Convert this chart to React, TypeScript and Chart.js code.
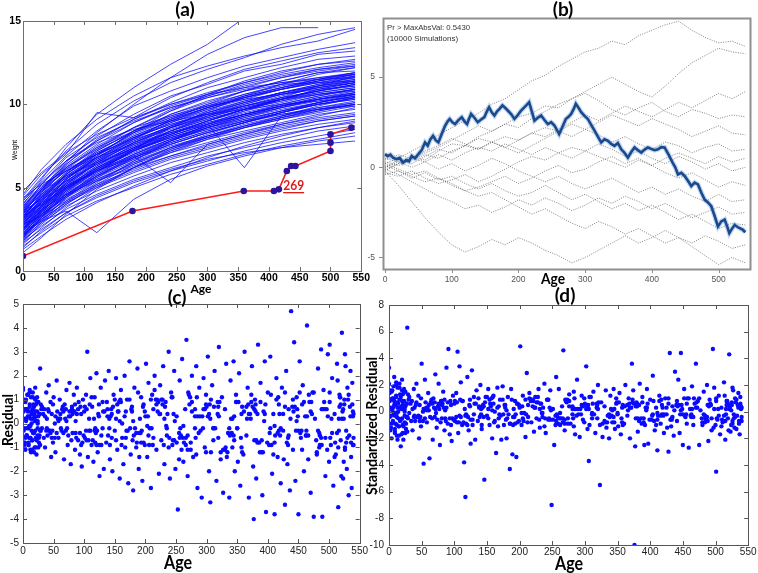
import React, { useEffect, useRef } from "react";
import { Chart, registerables } from "chart.js";
Chart.register(...registerables);

// ---------------- Panel (a): growth curves ----------------
const AGE_GRID = [0, 30, 70, 120, 180, 240, 300, 360, 420, 480, 540];
const growthCurves: number[][] = [
  [4.6, 6.1, 7.6, 9.1, 10.5, 11.6, 12.3, 12.9, 13.4, 13.8, 14.5],
  [4.3, 5.6, 7.2, 8.8, 10.2, 11.3, 12.1, 12.8, 13.6, 14.2, 14.6],
  [4.0, 5.4, 6.9, 8.4, 9.9, 10.8, 11.6, 12.3, 12.8, 13.3, 13.7],
  [3.8, 5.2, 6.6, 8.1, 9.4, 10.5, 11.2, 12.0, 12.4, 13.0, 13.2],
  [3.9, 5.0, 6.4, 7.8, 9.1, 10.1, 11.0, 11.6, 12.2, 12.7, 12.9],
  [3.6, 4.9, 6.3, 7.6, 8.9, 9.9, 10.6, 11.3, 11.9, 12.4, 12.6],
  [3.5, 4.7, 6.1, 7.4, 8.6, 9.6, 10.4, 11.0, 11.6, 12.1, 12.3],
  [3.7, 4.6, 5.9, 7.2, 8.4, 9.4, 10.1, 10.8, 11.4, 11.9, 12.0],
  [3.4, 4.5, 5.8, 7.0, 8.3, 9.2, 9.9, 10.6, 11.2, 11.6, 11.9],
  [3.3, 4.4, 5.7, 6.9, 8.1, 9.0, 9.8, 10.4, 10.9, 11.4, 11.7],
  [3.2, 4.3, 5.6, 6.8, 8.0, 8.9, 9.6, 10.2, 10.7, 11.2, 11.5],
  [3.1, 4.2, 5.5, 6.7, 7.8, 8.7, 9.4, 10.0, 10.6, 11.0, 11.3],
  [3.0, 4.1, 5.4, 6.6, 7.7, 8.6, 9.3, 9.9, 10.4, 10.8, 11.2],
  [2.9, 4.0, 5.3, 6.4, 7.5, 8.4, 9.1, 9.7, 10.2, 10.7, 11.0],
  [3.1, 4.1, 5.2, 6.3, 7.4, 8.3, 9.0, 9.6, 10.1, 10.6, 10.9],
  [2.8, 3.9, 5.1, 6.2, 7.3, 8.1, 8.8, 9.4, 9.9, 10.4, 10.7],
  [2.7, 3.8, 5.0, 6.1, 7.2, 8.0, 8.7, 9.3, 9.8, 10.2, 10.6],
  [3.0, 3.9, 5.0, 6.0, 7.0, 7.9, 8.6, 9.2, 9.7, 10.1, 10.5],
  [2.6, 3.7, 4.9, 5.9, 6.9, 7.7, 8.4, 9.0, 9.5, 10.0, 10.3],
  [2.5, 3.6, 4.8, 5.8, 6.8, 7.6, 8.3, 8.9, 9.4, 9.8, 10.2],
  [2.8, 3.6, 4.7, 5.7, 6.7, 7.5, 8.1, 8.7, 9.2, 9.7, 10.0],
  [2.4, 3.5, 4.6, 5.6, 6.6, 7.4, 8.0, 8.6, 9.1, 9.5, 9.9],
  [2.3, 3.4, 4.5, 5.5, 6.4, 7.2, 7.9, 8.4, 8.9, 9.4, 9.7],
  [2.6, 3.4, 4.4, 5.4, 6.3, 7.1, 7.7, 8.3, 8.8, 9.2, 9.5],
  [2.2, 3.2, 4.3, 5.2, 6.1, 6.9, 7.5, 8.1, 8.6, 9.0, 9.3],
  [2.1, 3.1, 4.1, 5.0, 5.9, 6.7, 7.3, 7.9, 8.4, 8.8, 9.1],
  [2.0, 2.9, 3.9, 4.8, 5.7, 6.5, 7.1, 7.7, 8.2, 8.6, 8.9],
  [1.9, 2.7, 3.7, 4.6, 5.5, 6.2, 6.9, 7.4, 7.9, 8.4, 8.7],
  [1.7, 2.5, 3.5, 4.4, 5.3, 6.0, 6.6, 7.2, 7.7, 8.1, 8.5],
  [1.5, 2.3, 3.3, 4.2, 5.0, 5.8, 6.4, 7.0, 7.5, 7.9, 8.3],
  [2.2, 3.0, 3.6, 2.3, 4.3, 5.5, 6.3, 6.9, 7.4, 7.8, 8.1],
  [4.5, 5.8, 7.0, 9.5, 9.2, 10.4, 11.3, 12.1, 12.6, 13.1, 13.4],
  [4.2, 5.5, 7.4, 9.4, 11.0, 12.4, 13.6, 15.2],
  [3.5, 4.8, 6.5, 8.3, 10.0, 11.6, 13.0, 14.0, 14.6, 14.6],
  [2.4, 3.3, 4.5, 5.9, 7.3, 8.6, 9.6, 10.5, 11.2, 11.8, 12.2],
  [3.2, 4.6, 6.2, 7.5, 8.6, 9.3, 9.9, 10.3, 10.6, 10.9, 11.1],
  [2.7, 4.2, 5.8, 7.0, 8.0, 8.8, 9.4, 9.9, 10.3, 10.6, 10.8],
  [3.6, 4.3, 5.1, 6.0, 6.8, 7.6, 8.3, 8.9, 9.5, 10.1, 10.6],
  [1.8, 3.0, 4.4, 5.7, 6.9, 7.8, 8.6, 9.2, 9.8, 10.3, 10.7],
  [2.9, 3.7, 4.6, 5.4, 6.2, 6.9, 7.6, 8.2, 8.8, 9.3, 9.8],
  [3.4, 4.9, 6.6, 7.7, 8.5, 9.0, 9.4, 9.7, 10.0, 10.2, 10.4],
  [2.5, 3.9, 5.5, 6.8, 7.9, 8.9, 9.7, 10.4, 11.0, 11.5, 11.9],
  [3.8, 4.8, 5.7, 6.5, 7.3, 8.0, 8.6, 9.1, 9.6, 10.0, 10.3],
  [2.2, 3.5, 5.0, 6.3, 7.6, 8.6, 9.4, 10.1, 10.7, 11.1, 11.4],
  [4.1, 5.1, 6.1, 7.0, 7.9, 8.6, 9.2, 9.8, 10.3, 10.7, 11.0],
  [1.6, 2.6, 3.8, 5.0, 6.2, 7.2, 8.0, 8.7, 9.3, 9.9, 10.4],
  [2.0, 3.4, 4.9, 6.1, 7.1, 7.9, 8.5, 9.0, 9.4, 9.7, 9.9],
  [3.3, 4.5, 5.9, 7.3, 8.6, 9.7, 10.5, 11.2, 11.7, 12.1, 12.4],
  [2.6, 3.8, 5.2, 6.6, 7.9, 9.1, 10.0, 10.8, 11.4, 11.9, 12.2],
  [3.0, 4.4, 5.8, 7.1, 8.2, 9.1, 9.8, 10.4, 10.9, 11.3, 11.6],
  [1.3, 2.1, 3.1, 4.1, 5.1, 6.0, 6.8, 7.5, 8.1, 8.6, 9.0],
  [2.3, 3.1, 4.1, 5.3, 6.6, 7.8, 8.8, 9.6, 10.3, 10.9, 11.3],
  [3.7, 5.2, 6.8, 8.0, 9.0, 9.8, 10.4, 10.9, 11.3, 11.6, 11.8],
  [2.8, 3.3, 4.2, 5.1, 6.0, 6.8, 7.4, 8.0, 8.5, 9.0, 9.3],
  [1.1, 2.0, 3.4, 4.9, 6.2, 7.3, 8.1, 8.8, 9.3, 9.7, 10.0],
  [3.5, 4.0, 5.5, 7.0, 8.3, 9.4, 10.2, 10.8, 11.2, 11.3, 11.4],
  [2.1, 3.6, 5.1, 6.5, 7.7, 8.6, 9.3, 9.9, 10.4, 10.8, 11.1],
  [4.4, 5.2, 6.0, 6.8, 7.6, 8.3, 9.0, 9.7, 10.4, 11.1, 11.7],
  [2.4, 3.7, 5.3, 6.9, 8.4, 9.6, 10.6, 11.4, 12.0, 12.4, 12.7],
  [3.1, 4.7, 6.4, 7.9, 9.1, 10.0, 10.6, 11.0, 11.3, 11.5, 11.6],
  [2.9, 3.9, 5.0, 6.0, 6.9, 5.3, 7.6, 8.2, 8.7, 9.1, 9.4],
  [3.2, 4.2, 5.4, 6.5, 7.5, 8.3, 8.8, 6.2, 9.3, 9.8, 10.1],
  [1.4, 2.4, 3.5, 4.5, 5.4, 6.1, 6.7, 7.1, 7.4, 7.6, 7.8],
  [2.5, 3.7, 5.0, 6.2, 7.3, 8.2, 8.9, 9.5, 10.0, 10.5, 10.9],
  [3.3, 4.5, 5.6, 6.6, 7.6, 8.4, 9.1, 9.7, 10.2, 10.6, 10.9],
  [2.0, 3.1, 4.4, 5.6, 6.8, 7.8, 8.6, 9.3, 9.9, 10.4, 10.8],
  [3.6, 4.6, 5.7, 6.8, 7.8, 8.7, 9.5, 10.1, 10.7, 11.2, 11.6],
  [2.7, 3.6, 4.8, 6.0, 7.2, 8.2, 9.0, 9.7, 10.3, 10.8, 11.2],
  [1.9, 3.2, 4.7, 6.0, 7.2, 8.1, 8.8, 9.4, 9.9, 10.3, 10.6],
  [3.9, 4.9, 6.0, 7.0, 8.0, 8.8, 9.5, 10.1, 10.6, 11.0, 11.4],
  [2.3, 3.3, 4.6, 5.8, 7.0, 7.9, 8.7, 9.4, 10.0, 10.5, 10.9],
  [3.0, 4.2, 5.5, 6.8, 8.0, 9.0, 9.8, 10.5, 11.0, 11.4, 11.8],
  [2.6, 3.5, 4.6, 5.7, 6.7, 7.6, 8.3, 8.9, 9.5, 10.0, 10.4],
  [3.4, 4.4, 5.6, 6.7, 7.7, 8.5, 9.2, 9.8, 10.3, 10.8, 11.2],
  [1.8, 2.8, 4.0, 5.2, 6.4, 7.4, 8.2, 8.9, 9.5, 10.0, 10.4],
  [2.9, 4.1, 5.3, 6.4, 7.4, 8.2, 8.9, 9.4, 9.9, 10.3, 10.7],
  [3.2, 4.0, 5.1, 6.2, 7.2, 8.0, 8.7, 9.3, 9.8, 10.3, 10.6],
  [2.4, 3.6, 4.9, 6.1, 7.2, 8.1, 8.8, 9.4, 9.9, 10.3, 10.6],
  [3.7, 4.9, 6.2, 7.4, 8.4, 9.2, 9.9, 10.5, 11.0, 11.5, 11.9],
  [2.1, 3.2, 4.5, 5.7, 6.8, 7.7, 8.4, 9.0, 9.6, 10.1, 10.5],
  [3.5, 4.4, 5.4, 6.4, 7.4, 8.2, 9.0, 9.7, 10.3, 10.9, 11.3],
  [2.8, 3.9, 5.2, 6.5, 7.7, 8.7, 9.5, 10.2, 10.7, 11.1, 11.4],
  [1.7, 2.9, 4.2, 5.4, 6.5, 7.4, 8.1, 8.7, 9.2, 9.6, 10.0],
  [4.0, 5.0, 6.2, 7.3, 8.3, 9.1, 9.8, 10.4, 10.9, 11.3, 11.7],
  [2.5, 3.4, 4.5, 5.5, 6.5, 7.3, 8.0, 8.6, 9.1, 9.6, 10.0],
  [3.1, 4.3, 5.8, 7.2, 8.4, 9.3, 10.0, 10.6, 11.1, 11.5, 11.8],
  [2.2, 3.0, 4.0, 5.1, 6.2, 7.1, 7.9, 8.6, 9.2, 9.7, 10.1],
  [3.6, 4.8, 6.0, 7.1, 8.1, 9.0, 9.7, 10.3, 10.9, 11.4, 11.8],
  [2.9, 3.8, 4.9, 6.0, 7.0, 7.8, 8.5, 9.1, 9.6, 10.1, 10.5],
  [4.2, 5.3, 6.6, 7.8, 8.9, 9.8, 10.5, 11.1, 11.6, 12.0, 12.3],
  [3.3, 4.0, 5.0, 6.1, 7.3, 8.4, 9.3, 10.0, 10.6, 11.1, 11.5],
  [2.0, 3.3, 4.8, 6.2, 7.4, 8.4, 9.2, 9.9, 10.5, 11.0, 11.3],
  [4.8, 5.9, 7.1, 8.2, 9.2, 10.0, 10.7, 11.3, 11.8, 12.2, 12.5],
];
const focusAges = [0, 178, 359, 408, 416, 429, 436, 443, 500, 500, 500, 534];
const focusWeights = [0.9, 3.6, 4.8, 4.8, 4.9, 6.0, 6.3, 6.3, 7.2, 7.7, 8.2, 8.6];
const focusLabel = "269";
const ageTicksA = [0, 50, 100, 150, 200, 250, 300, 350, 400, 450, 500, 550];
const weightTicks = [0, 5, 10, 15];

// ---------------- Panel (b): cumulative residual process ----------------
const simAges = [0, 20, 40, 60, 80, 100, 120, 140, 160, 180, 200, 220, 240, 260, 280, 300, 320, 340, 360, 380, 400, 420, 440, 460, 480, 500, 520, 540];
const simulatedPaths: number[][] = [
  [0.2, 0.5, 0.9, 1.3, 1.8, 2.2, 2.6, 3.0, 3.5, 3.8, 4.3, 4.8, 5.1, 5.6, 6.0, 6.4, 6.6, 7.0, 6.8, 7.3, 7.6, 7.9, 8.1, 7.6, 7.2, 6.9, 7.0, 6.7],
  [0.0, 0.3, 0.6, 0.4, 0.9, 1.3, 1.2, 1.7, 2.0, 2.4, 2.2, 2.7, 3.1, 3.5, 3.8, 4.2, 4.6, 5.0, 4.6, 4.2, 3.9, 4.5, 5.2, 5.8, 6.2, 6.6, 6.4, 6.3],
  [-0.2, 0.2, 0.5, 0.8, 1.1, 1.5, 1.9, 2.3, 2.0, 2.4, 2.8, 3.0, 3.4, 3.3, 3.8, 4.1, 3.7, 3.2, 2.9, 3.3, 3.6, 3.1, 2.8, 3.2, 3.0, 2.7, 2.9, 2.8],
  [0.3, 0.1, 0.4, 0.7, 0.5, 0.9, 1.2, 1.0, 1.4, 1.7, 1.5, 1.9, 2.2, 2.0, 1.7, 2.1, 1.8, 1.4, 1.7, 1.3, 1.0, 1.4, 1.2, 0.8, 1.1, 1.3, 0.9, 1.0],
  [-0.3, -0.5, -0.2, -0.6, -0.9, -0.7, -0.4, -0.8, -0.5, -0.1, 0.3, 0.6, 0.4, 0.8, 1.1, 0.9, 1.3, 1.0, 0.6, 0.9, 0.5, 0.2, 0.6, 0.3, -0.1, 0.2, -0.2, 0.0],
  [0.1, -0.2, -0.5, -0.8, -0.6, -1.0, -1.3, -1.1, -0.8, -0.5, -0.9, -0.6, -0.2, 0.1, -0.3, -0.1, 0.3, 0.6, 0.2, 0.5, 0.1, -0.3, -0.6, -0.3, -0.7, -1.1, -0.8, -1.0],
  [-0.1, -0.4, -0.8, -1.2, -1.6, -1.9, -2.3, -2.1, -2.5, -2.2, -1.8, -2.1, -1.7, -2.0, -2.4, -2.1, -1.7, -2.0, -1.6, -1.9, -2.3, -2.0, -2.4, -2.8, -2.5, -2.2, -2.6, -2.5],
  [-0.2, -1.0, -1.9, -2.8, -3.6, -4.3, -4.7, -4.4, -4.0, -4.3, -3.9, -4.2, -4.6, -4.9, -5.3, -5.0, -4.6, -4.2, -3.8, -4.2, -3.9, -3.5, -3.9, -4.2, -3.8, -4.1, -4.5, -4.3],
  [0.2, -0.1, -0.4, -0.2, -0.6, -0.9, -1.3, -1.6, -1.4, -1.8, -2.2, -2.6, -2.3, -2.7, -3.1, -3.4, -3.0, -3.3, -3.7, -3.4, -3.8, -4.2, -3.9, -4.4, -4.9, -5.4, -5.0, -5.3],
  [0.4, 0.7, 0.5, 0.9, 1.2, 1.6, 1.3, 1.0, 1.4, 1.1, 0.8, 1.2, 1.6, 2.0, 2.4, 2.1, 2.5, 2.9, 2.6, 2.3, 2.7, 2.4, 2.1, 1.7, 2.0, 2.3, 1.9, 1.8],
  [-0.4, -0.2, -0.6, -0.3, -0.7, -0.5, -0.9, -1.2, -0.9, -1.3, -1.6, -1.4, -1.0, -1.4, -1.8, -1.5, -1.9, -2.3, -2.0, -2.4, -2.1, -2.5, -2.9, -2.6, -3.0, -3.4, -3.1, -3.2],
  [0.0, 0.4, 0.2, 0.6, 1.0, 0.8, 1.2, 1.6, 1.4, 1.1, 1.5, 1.9, 1.7, 2.1, 2.5, 2.9, 2.6, 3.0, 3.4, 3.1, 2.8, 3.2, 3.6, 3.3, 3.7, 4.1, 3.8, 4.2],
  [0.5, 0.3, 0.0, 0.3, -0.1, 0.2, -0.2, 0.1, 0.5, 0.2, -0.2, -0.5, -0.8, -0.5, -0.9, -1.2, -0.9, -0.6, -1.0, -1.4, -1.1, -1.5, -1.2, -1.6, -1.9, -1.5, -1.9, -1.8],
  [-0.1, 0.2, 0.5, 0.3, 0.7, 0.4, 0.8, 1.1, 0.9, 1.3, 1.0, 0.7, 1.1, 0.8, 0.5, 0.9, 0.6, 0.3, 0.0, 0.4, 0.1, 0.5, 0.8, 0.5, 0.2, 0.6, 0.3, 0.5],
];
const observedAges = [
  0, 4, 8, 12, 17, 22, 27, 32, 36, 40,
  45, 50, 55, 60, 64, 68, 72, 76, 80, 85,
  90, 94, 97, 101, 105, 110, 115, 119, 123, 126,
  129, 134, 139, 144, 149, 152, 156, 160, 164, 168,
  172, 176, 180, 184, 189, 194, 199, 204, 208, 212,
  216, 220, 224, 229, 234, 239, 244, 249, 254, 258,
  261, 266, 271, 275, 279, 283, 286, 290, 294, 299,
  304, 309, 314, 319, 324, 329, 334, 339, 344, 349,
  354, 359, 364, 369, 374, 379, 384, 389, 394, 399,
  404, 409, 414, 419, 425, 431, 435, 439, 444, 449,
  454, 459, 464, 469, 474, 479, 484, 489, 494, 499,
  504, 509, 513, 516, 520, 524, 530, 536, 540,
];
const observedProcess = [
  0.73, 0.62, 0.70, 0.54, 0.45, 0.52, 0.26, 0.40, 0.33, 0.63,
  0.50, 0.73, 0.95, 1.38, 1.20, 1.55, 1.75, 1.50, 1.38, 1.85,
  2.30, 2.55, 2.68, 2.50, 2.40, 2.62, 2.78, 2.55, 2.40, 2.70,
  2.96, 2.75, 2.50, 2.65, 2.78, 3.05, 3.33, 3.05, 2.87, 3.10,
  3.25, 3.43, 3.30, 3.15, 2.95, 2.68, 2.90, 3.15, 3.30, 3.45,
  3.61, 3.10, 2.59, 2.75, 2.87, 2.62, 2.40, 2.50, 2.31, 2.05,
  1.84, 2.25, 2.68, 2.80, 2.96, 3.25, 3.52, 3.30, 3.06, 2.85,
  2.68, 2.35, 2.03, 1.70, 1.38, 1.55, 1.47, 1.30, 1.19, 1.35,
  1.00, 0.80, 0.54, 0.85, 1.10, 0.95, 0.82, 0.98, 1.10, 1.02,
  0.95, 1.00, 1.12, 1.10, 0.70, 0.26, 0.00, -0.39, -0.30, -0.48,
  -0.75, -1.04, -0.85, -0.95, -1.40, -1.79, -1.95, -2.16, -2.70, -3.28,
  -3.00, -2.90, -3.30, -3.65, -3.40, -3.20, -3.35, -3.46, -3.60,
];
const simAgeTicks = [0, 100, 200, 300, 400, 500];
const simValueTicks = [-5, 0, 5];
const simNote1 = "Pr > MaxAbsVal: 0.5430";
const simNote2 = "(10000 Simulations)";

// ---------------- Panels (c) and (d): residuals ----------------
const residualAges = [
  0, 1, 1, 2, 3, 4, 4, 5, 6, 7, 7, 8, 9, 10, 10, 11, 12, 13, 14, 14,
  15, 16, 16, 17, 18, 19, 19, 20, 21, 22, 22, 23, 24, 25, 26, 27, 28, 29, 30, 0,
  2, 3, 5, 6, 8, 9, 11, 12, 13, 15, 17, 18, 20, 21, 23, 24, 26, 27, 28, 31,
  1, 4, 6, 9, 11, 14, 16, 18, 19, 21, 24, 25, 3, 7, 10, 13, 17, 20, 22, 33,
  35, 36, 38, 39, 40, 42, 43, 45, 46, 47, 49, 50, 52, 53, 55, 56, 58, 60, 62, 65,
  67, 68, 70, 71, 73, 75, 76, 78, 80, 81, 83, 85, 86, 88, 90, 91, 93, 95, 96, 98,
  100, 101, 103, 105, 106, 108, 110, 112, 113, 115, 117, 118, 120, 122, 123, 125, 127, 128, 130, 132,
  134, 136, 138, 140, 142, 144, 146, 148, 150, 152, 154, 156, 158, 160, 162, 164, 166, 168, 170, 172,
  174, 176, 178, 180, 182, 185, 187, 189, 191, 193, 195, 197, 199, 201, 203, 205, 207, 209, 211, 213,
  215, 218, 220, 222, 224, 226, 229, 231, 233, 235, 238, 240, 242, 244, 247, 249, 251, 253, 256, 258,
  260, 262, 265, 267, 269, 271, 274, 276, 278, 281, 283, 285, 288, 290, 292, 295, 297, 299, 302, 304,
  306, 309, 311, 313, 316, 318, 320, 323, 325, 327, 330, 332, 334, 337, 339, 341, 344, 346, 348, 351,
  353, 355, 358, 360, 362, 365, 367, 369, 372, 374, 376, 377, 379, 381, 384, 386, 388, 391, 393, 395,
  397, 400, 402, 404, 407, 409, 411, 414, 416, 418, 421, 423, 425, 428, 430, 432, 434, 436, 438, 441,
  443, 445, 447, 450, 452, 454, 457, 459, 461, 464, 466, 468, 470, 473, 475, 477, 480, 482, 484, 487,
  489, 491, 494, 496, 498, 500, 501, 503, 505, 507, 509, 511, 513, 515, 517, 519, 521, 523, 525, 527,
  529, 531, 533, 535, 537, 539, 540, 538, 536, 534, 532, 530, 528, 526, 524, 522, 520, 518, 516, 514,
  45, 112, 230, 378, 455, 61, 190, 305, 420, 515, 88, 145, 270, 350, 498, 27, 160, 245, 390, 470,
  53, 125, 215, 330, 440, 72, 178, 287, 405, 530, 97, 203, 318, 462, 18, 138, 255, 366, 485, 540,
  31, 84, 152, 226, 299, 371, 446, 519, 58, 119, 188, 263, 342, 412, 492, 12, 77, 169, 281, 433,
  36, 74, 109, 141, 177, 212, 248, 284, 319, 357, 392, 428, 463, 501, 536, 57, 93, 131, 167, 204,
  239, 276, 311, 348, 383, 419, 456, 493, 528, 42, 79, 116, 154, 192, 228, 266, 302, 338, 375, 411,
  448, 484, 521, 63, 101, 139, 174, 210, 246, 283, 321, 356, 394, 431, 467, 505, 539, 49, 87, 124,
  161, 199, 234, 272, 307, 345, 381, 417, 453, 490, 526, 39, 81, 118, 157, 194, 232, 269, 306, 344,
  380, 416, 452, 488, 524, 66, 104, 143, 181, 219, 257, 295, 333, 369, 406, 444, 482, 518, 34, 71,
  108, 147, 185, 223, 261, 299, 337, 373, 409, 447, 485, 523, 59, 95, 133, 171, 209, 247, 285, 323,
  361, 399, 437, 475, 513, 47, 85, 121, 159, 197, 236, 274, 312, 350, 388, 426, 464, 502, 538, 69,
  107, 145, 183, 221, 259, 297, 335, 373, 411, 449, 487, 525, 44, 82, 120, 158, 196, 235, 273, 311,
  349, 387, 425, 463, 501, 539, 64, 103, 141, 179, 217, 255, 293, 331, 368, 404, 442, 480, 517, 52,
  90, 128, 166, 205, 243, 281, 319, 357, 395, 433, 471, 509, 38, 76, 114, 152, 190, 228, 266, 304,
  342, 380, 418, 456, 494, 532, 61, 99, 137, 175, 213, 251, 289, 327, 365, 403, 441, 479, 516, 48,
  86, 124, 162, 200, 238, 276, 314, 352, 390, 428, 466, 504, 540, 70, 110, 150, 186, 224, 262, 300,
  5, 9, 13, 17, 21, 25, 29, 3, 8, 12, 16, 20, 24, 28, 2, 6, 11, 15, 19, 23,
  340, 378, 414, 450, 488, 526, 55, 94, 130, 168, 206, 244, 282, 320, 358, 396, 434, 472, 510, 41,
  80, 117, 155, 193, 231, 269, 307, 345, 383, 421, 459, 497, 535, 66, 104, 142, 180, 218, 256, 294,
];
const residuals = [
  1.4, -0.3, 0.5, -0.8, 0.2, -1.1, 0.9, 0.1, -0.5, 0.6, -0.2, 1.2, -0.9, 0.3, -0.6, 0.8, -0.1, -1.2, 0.4, 0.0,
  -0.7, 1.1, 0.2, -0.4, 0.7, -1.0, 0.3, 1.5, -0.6, 0.1, -1.3, 0.5, -0.2, 0.9, -0.8, 0.4, 2.3, -0.3, 0.6, 1.5,
  -0.9, 0.6, 1.0, -0.5, 0.3, -0.2, 1.3, -1.1, 0.2, -0.7, 0.8, -0.4, 0.5, -1.0, 1.1, 0.0, -0.6, 0.4, -0.3, 0.7,
  0.9, -0.6, 0.2, -0.9, 1.4, -0.3, 0.6, -1.2, 0.1, 0.8, -0.5, 0.3, -0.8, 1.2, -0.1, 0.5, -0.4, 1.0, -0.7, 0.4,
  0.6, -1.0, 1.3, 0.2, -0.5, 1.6, -0.3, 0.9, -1.4, 0.4, -0.8, 1.1, 0.0, -1.2, 1.8, 0.5, -0.6, 1.0, -0.2, 0.7,
  -1.5, 0.8, -0.3, 1.4, -0.9, 0.3, 1.7, -1.7, 0.6, -0.4, 1.2, -1.1, 0.1, 1.5, -0.7, 0.9, -1.3, 0.4, -1.8, 1.0,
  0.5, -0.6, 1.2, 3.0, -1.4, 0.2, 1.9, -0.9, 0.7, -1.6, 1.1, -0.2, 2.1, -1.2, 0.4, -2.2, 1.5, -0.5, 0.9, -1.9,
  1.8, -0.8, 0.3, 2.2, -1.5, 0.6, -2.0, 1.2, -0.3, 1.9, -1.1, 0.5, -2.3, 1.4, 0.0, -1.7, 2.0, -0.6, 1.0, -2.5,
  2.6, -1.3, 0.7, -2.8, 1.5, -0.4, 2.3, -1.9, 0.2, 1.1, -2.4, 0.8, -0.9, 2.5, -1.4, 1.7, -0.2, -2.7, 1.2, -0.6,
  2.0, -1.1, 0.5, -2.1, 1.6, -0.7, 2.4, -1.7, 0.9, -0.2, 3.0, -2.3, 1.3, -0.9, 2.2, -1.9, 0.3, -3.6, 1.8, -0.5,
  2.7, -1.6, 0.6, 3.5, -2.2, 1.2, -0.8, 2.0, -1.4, 0.3, 2.4, -2.7, 1.5, -0.3, -3.1, 1.9, -1.0, 0.8, 2.8, -2.0,
  -3.3, 1.6, -0.7, 2.2, -2.4, 0.4, 3.2, -1.5, 1.1, -2.9, 0.6, 2.5, -1.2, -3.1, 1.8, -0.4, 2.6, -2.0, 0.9, -1.6,
  2.1, -2.6, 0.7, -1.3, 3.0, -0.5, 1.5, -3.1, 0.2, 2.4, -1.8, -4.0, 1.0, -2.3, 3.3, -0.8, 1.7, -3.0, 0.5, 2.6,
  -3.7, 1.3, -0.9, 2.8, -2.1, 0.4, -3.8, 1.9, -1.4, 0.8, -2.5, 1.5, -0.3, -3.4, 2.2, -1.7, 0.6, -2.8, 4.7, -1.1,
  3.4, -2.4, 1.1, -3.8, 2.6, -0.6, 1.6, -2.0, 0.3, 4.1, -1.5, 0.9, -2.9, 1.3, -3.9, 0.2, -1.2, 2.3, -0.4, 3.1,
  -3.9, 1.4, -2.2, 0.6, 2.9, -1.6, 3.3, -0.9, 1.9, -2.6, 0.4, -1.3, 2.5, -3.5, 1.2, -0.7, 3.8, -2.3, 0.8, 2.4,
  -1.9, 1.0, -0.5, 2.2, -2.7, 0.3, -0.6, 1.7, -1.4, 0.7, -3.0, 1.5, -0.8, 2.9, -1.6, 0.5, -2.2, 1.1, -0.3, 1.8,
  -0.4, 1.1, -0.9, 0.6, -0.3, 0.2, -1.4, 0.8, -0.5, -1.0, 0.4, -0.6, 1.3, -0.2, 0.3, -0.5, 0.9, -0.7, -1.2, 0.5,
  0.3, -0.9, 1.4, -1.1, 0.7, -0.2, 0.5, -0.4, 1.2, -0.6, -0.8, -0.1, 0.9, -0.5, 0.4, 0.6, -1.5, 0.2, -0.9, 0.4,
  -0.2, 0.5, -0.7, 1.0, -1.2, 0.4, -0.3, 0.8, 0.1, -0.4, 1.3, -0.8, 0.2, -0.5, 0.9, -0.6, 0.3, -0.3, 0.6, -0.9,
  0.3, -0.5, 0.8, -0.2, 0.6, -0.9, 0.1, 1.1, -0.6, 0.4, -1.2, 0.7, -0.3, 0.9, -0.8, 0.2, -0.4, 0.5, -1.0, 0.3,
  -0.6, 0.9, -0.2, 1.2, -0.8, 0.4, -1.1, 0.6, -0.3, 0.5, -0.7, 0.2, 0.8, -0.4, 1.0, -0.9, 0.3, -0.5, 0.7, -0.1,
  0.6, -1.0, 0.2, -0.3, 0.7, -0.5, 1.0, -0.2, 0.4, -1.3, 0.9, -0.6, 0.1, -0.8, 1.2, -0.4, 0.5, 0.8, -0.6, 0.3,
  -0.9, 0.5, -0.1, 0.8, -1.2, 0.3, -0.7, 1.1, -0.4, 0.6, -1.0, -0.2, 0.4, -0.8, 0.9, -0.3, 0.7, -1.1, 0.2, -0.5,
  0.8, -0.4, 1.3, -0.9, 0.2, 0.5, -0.7, 0.3, -0.5, 1.0, -0.2, 0.6, -1.4, 0.4, -0.9, 0.7, -0.3, 1.1, -0.6, 0.1,
  -0.3, 0.7, -1.0, 0.4, -0.6, 1.2, -0.2, 0.9, -1.3, 0.1, -0.5, 0.6, 0.2, -0.9, 0.5, -0.3, 1.0, -0.7, 0.3, -1.2,
  0.5, -0.8, 0.2, 1.3, -0.4, -0.6, 0.8, -0.3, 1.0, -0.8, 0.4, -1.1, 0.7, -0.2, 0.9, -1.5, 0.3, -0.6, 0.8, 0.2,
  -0.7, 0.4, -0.2, 0.9, -1.1, 0.6, -0.4, 1.2, -0.8, 0.3, -0.6, 1.0, -0.3, 0.5, -0.9, 0.1, 0.7, -0.5, 1.1, -0.2,
  0.9, -1.2, 0.4, -0.5, 1.3, -0.9, 0.6, -0.3, 0.2, -0.7, 1.0, -0.4, 0.3, -1.0, 0.8, -0.2, 0.5, -1.3, 0.7, -0.6,
  0.6, -0.9, 0.3, -0.5, 1.1, -0.2, 0.7, -1.0, 0.4, -0.6, 0.9, -1.4, -0.3, 0.5, -0.7, 0.2, -0.4, 0.8, -0.6, 0.4,
  -1.0, 0.5, -0.3, 0.8, -0.6, 1.2, 0.4, -0.5, 0.9, -0.2, 0.6, -0.8, 0.3, -1.1, 0.7, -0.4, 1.0, -0.7, 0.2, -0.3,
  -0.4, 0.8, -0.6, 0.3, -1.0, 0.5, -0.2, 0.9, -0.7, 1.3, -0.5, 0.2, -0.9, 0.6, -0.3, 1.0, -0.8, 0.4, -0.1, 0.7,
  0.6, -0.8, 1.1, -0.4, 0.3, -1.0, 0.8, -0.2, 0.5, -0.6, 1.3, -0.3, 0.1, -0.9, 1.0, -0.5, 0.7, -1.1, 0.2, 0.9,
  0.2, -0.7, 1.0, -0.3, 0.6, -1.1, -0.4, 0.7, -0.2, 0.5, -0.9, 1.1, -0.6, 0.3, -1.2, 0.8, -0.5, 0.4, -0.8, 0.6,
  0.7, -0.3, 0.5, -0.8, 0.2, -0.5, 1.0, -0.7, 0.4, -0.2, 0.9, -1.1, 0.3, -0.4, 0.6, -0.9, 0.1, 0.8, -0.6, -0.2,
];
const standardizedResiduals = [
  3.3, -0.4, 0.8, -1.3, 0.3, -2.0, 1.5, 0.1, -0.7, 1.0, -0.2, 2.6, -1.6, 0.5, -0.9, 1.2, -0.1, -2.1, 0.6, 0.0,
  -1.1, 1.8, 0.3, -0.6, 1.1, -1.7, 0.4, 2.4, -1.0, 0.2, -2.1, 0.8, -0.3, 1.5, -1.3, 0.6, 6.3, -0.5, 0.9, 2.1,
  -1.4, 0.9, 1.6, -0.8, 0.5, -0.3, 2.0, -1.8, 0.3, -1.1, 1.3, -0.6, 0.8, -1.6, 1.7, 0.0, -0.9, 0.6, -0.4, 1.1,
  1.4, -0.9, 0.3, -1.5, 2.2, -0.5, 0.9, -2.6, 0.2, 1.3, -0.8, 0.4, -1.2, 1.9, -0.1, 0.7, -0.6, 1.6, -1.1, 0.6,
  0.8, -1.4, 1.7, 0.3, -0.7, 2.1, -0.4, 1.2, -2.0, 0.5, -1.1, 3.6, 0.0, -3.9, 2.4, 0.7, -0.8, 1.4, -3.5, 0.9,
  -2.1, 1.0, -0.4, 2.8, -1.2, 0.4, 2.1, -2.5, 0.8, -0.5, 1.5, -1.4, 0.1, 3.3, -0.9, 4.7, -1.7, 0.5, -2.2, 1.2,
  0.6, -0.7, 1.4, 4.5, -1.6, 3.4, 2.2, -1.0, 0.8, -3.8, -6.4, -0.2, 2.6, -1.4, 0.5, -2.4, 3.1, -0.6, 1.1, -2.1,
  1.6, -0.7, 0.3, 2.0, -1.3, 0.5, -5.1, 1.1, -0.3, 1.7, -1.0, 0.4, -2.0, 1.2, 0.0, -3.1, 1.8, -0.5, 0.9, -2.1,
  1.9, -1.0, 0.5, -2.0, 1.1, -4.3, 1.7, -3.2, 0.2, 0.8, -3.4, 0.6, -0.7, 4.9, -1.0, 1.2, -0.1, -1.9, 2.9, -0.4,
  1.4, -0.8, 0.4, -1.5, 1.1, -0.5, 1.7, -1.2, 0.6, -0.1, 2.1, -1.6, 0.9, -0.6, 1.6, -7.0, 0.2, -2.5, 2.6, -0.4,
  1.7, -1.0, 0.4, 4.6, -1.4, 0.8, -0.5, 1.3, -0.9, 0.2, 1.5, -1.7, 2.4, -0.2, -1.9, 1.2, -0.6, 0.5, 3.4, -1.3,
  -3.7, 1.1, -0.5, 1.5, -1.6, 0.3, 2.0, -5.5, 0.7, -1.9, 0.4, 1.6, -0.8, -2.0, 1.2, -0.3, 1.7, -1.3, 0.6, -1.1,
  1.4, -1.7, 0.5, -0.9, 2.0, -0.3, 1.0, -2.0, 3.6, 1.6, -10.0, -2.6, 0.7, -1.5, 2.1, -0.5, 1.1, -2.5, 0.3, 1.7,
  -2.4, 0.9, -0.6, 2.7, -1.4, 0.3, -2.9, 1.2, -0.9, 0.5, -1.6, 1.0, -0.2, -3.0, 4.4, -1.1, 0.4, -1.8, 3.0, -0.7,
  2.4, -1.6, 4.4, -2.5, 1.7, -0.4, 1.0, -2.7, 0.2, 1.9, -1.0, 0.6, 3.6, 0.8, -2.5, 0.1, -0.8, 1.5, -0.3, 2.0,
  -2.2, 0.9, -1.4, 4.7, 1.8, -1.0, -4.5, -0.6, 1.2, -1.7, 0.3, -0.8, 2.2, -2.1, 0.8, -0.5, 4.3, -1.5, 0.5, 1.6,
  -1.2, 0.7, -0.3, 1.4, -1.7, 0.2, -0.4, 1.1, -0.9, 0.5, -1.3, 1.0, -0.5, 1.8, -1.0, 0.3, -1.4, 0.7, -0.2, 1.2,
  -0.3, 0.8, -0.6, 0.4, -0.2, 0.1, -1.0, 0.5, -0.3, -0.7, 0.3, -0.4, 0.9, -0.1, 0.2, -0.4, 0.6, -0.5, -0.8, 0.3,
  0.2, -0.6, 1.0, -0.7, 0.5, -0.1, 0.3, -0.3, 0.8, -0.4, -0.5, -0.1, 0.6, -0.3, 0.3, 0.4, -1.0, 0.1, -0.6, 0.3,
  -0.1, 0.3, -0.5, 0.7, -0.8, 0.3, -0.2, 0.5, 0.1, -0.3, 0.9, -0.5, 0.1, -0.3, 0.6, -0.4, 0.2, -0.2, 0.4, -0.6,
  0.2, -0.6, 0.9, -0.2, 0.5, -0.8, 0.1, 1.0, -0.5, 0.3, -1.0, 0.6, -0.2, 0.8, -0.7, 0.3, -0.5, 0.6, -1.1, 0.4,
  -0.5, 0.8, -0.1, 1.0, -0.7, 0.3, -0.9, 0.5, -0.2, 0.7, -0.8, 0.2, 0.9, -0.4, 1.1, -0.8, 0.2, -0.4, 0.6, -0.1,
  0.5, -0.8, 0.2, -0.4, 0.8, -0.4, 0.9, -0.2, 0.3, -1.1, 0.7, -0.5, 0.1, -0.6, 1.0, -0.3, 0.4, 1.0, -0.7, 0.4,
  -0.8, 0.5, -0.1, 0.7, -1.0, 0.2, -0.5, 0.9, -0.3, 0.4, -0.7, -0.3, 0.5, -0.9, 1.0, -0.2, 0.6, -0.9, 0.2, -0.4,
  0.6, -0.3, 1.0, -0.7, 0.1, 0.6, -0.8, 0.3, -0.5, 0.9, -0.2, 0.5, -1.2, 0.3, -0.7, 0.5, -0.2, 0.8, -0.7, 0.2,
  -0.3, 0.7, -0.9, 0.3, -0.5, 1.0, -0.2, 0.7, -1.0, 0.1, -0.4, 0.5, 0.3, -1.0, 0.6, -0.3, 0.9, -0.6, 0.2, -1.0,
  0.4, -0.6, 0.1, 1.0, -0.3, -0.7, 0.9, -0.4, 1.1, -0.8, 0.3, -0.9, 0.6, -0.2, 0.7, -1.2, 0.2, -0.5, 0.6, 0.3,
  -0.8, 0.4, -0.2, 0.8, -0.9, 0.4, -0.3, 0.9, -0.6, 0.2, -0.4, 0.7, -0.4, 0.6, -1.0, 0.1, 0.6, -0.4, 0.9, -0.2,
  0.7, -0.9, 0.3, -0.4, 1.0, -0.7, 0.7, -0.4, 0.2, -0.6, 0.8, -0.3, 0.2, -0.8, 0.6, -0.2, 0.4, -1.0, 0.5, -0.7,
  0.7, -1.0, 0.3, -0.5, 0.9, -0.2, 0.5, -0.8, 0.3, -0.5, 0.7, -1.1, -0.4, 0.6, -0.8, 0.2, -0.4, 0.7, -0.5, 0.3,
  -0.8, 0.4, -0.2, 0.6, -0.5, 0.9, 0.5, -0.6, 1.0, -0.2, 0.5, -0.6, 0.2, -0.9, 0.5, -0.3, 0.8, -0.5, 0.2, -0.4,
  -0.5, 0.9, -0.7, 0.3, -1.1, 0.4, -0.2, 0.7, -0.5, 1.0, -0.4, 0.2, -0.7, 0.7, -0.4, 1.1, -0.9, 0.3, -0.1, 0.6,
  1.0, -1.3, 1.8, -0.7, 0.5, -1.6, 1.3, -0.3, 0.8, -1.0, 2.1, -0.5, 0.2, -1.5, 1.6, -0.8, 1.1, -1.8, 0.3, 1.5,
  0.2, -0.5, 0.8, -0.2, 0.5, -0.9, -0.5, 0.8, -0.2, 0.4, -0.7, 0.9, -0.5, 0.2, -1.0, 0.6, -0.4, 0.3, -0.6, 0.5,
  0.8, -0.3, 0.6, -0.9, 0.2, -0.6, 1.1, -0.8, 0.5, -0.2, 1.0, -1.2, 0.3, -0.5, 0.7, -1.0, 0.1, 0.9, -0.7, -0.2,
];
const ageTicksCD = [0, 50, 100, 150, 200, 250, 300, 350, 400, 450, 500, 550];
const residTicks = [-5, -4, -3, -2, -1, 0, 1, 2, 3, 4, 5];
const stdResidTicks = [-10, -8, -6, -4, -2, 0, 2, 4, 6, 8];

// ---------------- helpers ----------------
const BOLD_TITLE = "bold 19px Lato, 'Open Sans', sans-serif";
const NARROW = "'Liberation Sans Narrow', 'Liberation Sans', Arial, sans-serif";

type TextItem = {
  text: string; x?: number; y?: number; dataX?: number; dataY?: number;
  font: string; color: string; align?: CanvasTextAlign; baseline?: CanvasTextBaseline;
  rotate?: number; maxWidth?: number; underline?: boolean;
};
type Decor = {
  frameColor: string; frameWidth: number; tickLen: number; tickColor: string;
  inward: boolean; sides: string[]; texts: TextItem[];
};

function makeDecor(d: Decor) {
  return {
    id: "decor",
    afterDraw(chart: any) {
      const { ctx, chartArea: ca, scales } = chart;
      const xs = scales.x, ys = scales.y;
      ctx.save();
      ctx.strokeStyle = d.tickColor;
      ctx.lineWidth = 1;
      ctx.beginPath();
      const L = d.tickLen, dir = d.inward ? 1 : -1;
      for (const t of xs.ticks) {
        const px = Math.round(xs.getPixelForValue(t.value)) + 0.5;
        if (d.sides.includes("bottom")) { ctx.moveTo(px, ca.bottom); ctx.lineTo(px, ca.bottom - dir * L); }
        if (d.sides.includes("top")) { ctx.moveTo(px, ca.top); ctx.lineTo(px, ca.top + dir * L); }
      }
      for (const t of ys.ticks) {
        const py = Math.round(ys.getPixelForValue(t.value)) + 0.5;
        if (d.sides.includes("left")) { ctx.moveTo(ca.left, py); ctx.lineTo(ca.left + dir * L, py); }
        if (d.sides.includes("right")) { ctx.moveTo(ca.right, py); ctx.lineTo(ca.right - dir * L, py); }
      }
      ctx.stroke();
      ctx.strokeStyle = d.frameColor;
      ctx.lineWidth = d.frameWidth;
      ctx.strokeRect(Math.round(ca.left) + 0.5, Math.round(ca.top) + 0.5, Math.round(ca.right - ca.left), Math.round(ca.bottom - ca.top));
      for (const t of d.texts) {
        let x = t.x ?? 0, y = t.y ?? 0;
        if (t.dataX !== undefined && t.dataY !== undefined) {
          x = xs.getPixelForValue(t.dataX);
          y = ys.getPixelForValue(t.dataY);
        }
        ctx.save();
        ctx.translate(x, y);
        if (t.rotate) ctx.rotate(t.rotate);
        ctx.font = t.font;
        ctx.fillStyle = t.color;
        ctx.textAlign = t.align || "center";
        ctx.textBaseline = t.baseline || "middle";
        if (t.maxWidth) ctx.fillText(t.text, 0, 0, t.maxWidth); else ctx.fillText(t.text, 0, 0);
        if (t.underline) {
          let w = ctx.measureText(t.text).width;
          if (t.maxWidth) w = Math.min(w, t.maxWidth);
          ctx.strokeStyle = t.color;
          ctx.lineWidth = 1.3;
          ctx.beginPath();
          ctx.moveTo(0, 2.5);
          ctx.lineTo(w, 2.5);
          ctx.stroke();
        }
        ctx.restore();
      }
      ctx.restore();
    },
  };
}

function axis(min: number, max: number, ticks: number[], size: number, font: any, color: string, padding: number) {
  return {
    type: "linear",
    min, max,
    afterBuildTicks: (s: any) => { s.ticks = ticks.map((v) => ({ value: v })); },
    afterFit: (s: any) => { if (s.isHorizontal()) s.height = size; else s.width = size; },
    grid: { display: false, drawTicks: false },
    border: { display: false },
    ticks: { font, color, padding, maxRotation: 0, minRotation: 0, autoSkip: false },
  };
}

const baseOptions = (padding: any, x: any, y: any) => ({
  responsive: false,
  animation: false,
  events: [],
  layout: { padding },
  plugins: { legend: { display: false }, tooltip: { enabled: false } },
  scales: { x, y },
});

// ---------------- chart builders ----------------
function buildA(): any {
  const datasets: any[] = [
    {
      data: focusAges.map((a, i) => ({ x: a, y: focusWeights[i] })),
      borderColor: "#ff1a1a",
      borderWidth: 1.6,
      pointRadius: 3.3,
      pointBackgroundColor: "#2d149c",
      pointBorderWidth: 0,
      order: 0,
    },
    ...growthCurves.map((w) => ({
      data: w.map((v, i) => ({ x: AGE_GRID[i], y: v })),
      borderColor: "rgba(10,10,255,0.85)",
      borderWidth: 0.9,
      pointRadius: 0,
      order: 1,
    })),
  ];
  const decor = makeDecor({
    frameColor: "#6e6e6e", frameWidth: 1, tickLen: 4, tickColor: "#6e6e6e", inward: true,
    sides: ["top", "bottom", "left", "right"],
    texts: [
      { text: "(a)", x: 185, y: 10, font: BOLD_TITLE, color: "#000", maxWidth: 24 },
      { text: "Weight", x: 15, y: 150, font: "6.5px Arial, sans-serif", color: "#000", rotate: -Math.PI / 2 },
      { text: focusLabel, dataX: 423, dataY: 4.85, font: "bold 14px Lato, sans-serif", color: "#e01b1b", align: "left", baseline: "alphabetic", maxWidth: 21, underline: true },
    ],
  });
  return {
    type: "line",
    data: { datasets },
    options: baseOptions(
      { top: 21, right: 5, left: 0, bottom: 0 },
      axis(0, 550, ageTicksA, 10, { size: 10.5, weight: "bold", family: NARROW }, "#000", 1),
      axis(0, 15, weightTicks, 23, { size: 10.5, weight: "bold", family: NARROW }, "#000", 2)
    ),
    plugins: [decor],
  };
}

function buildB(): any {
  const datasets: any[] = [
    {
      data: observedAges.map((a, i) => ({ x: a, y: observedProcess[i] })),
      borderColor: "#1b4a8c",
      borderWidth: 2.6,
      pointRadius: 0,
      order: 0,
    },
    {
      data: observedAges.map((a, i) => ({ x: a, y: observedProcess[i] })),
      borderColor: "rgba(120,165,225,0.45)",
      borderWidth: 5,
      pointRadius: 0,
      order: 1,
    },
    ...simulatedPaths.map((p) => ({
      data: p.map((v, i) => ({ x: simAges[i], y: v })),
      borderColor: "rgba(60,60,60,0.8)",
      borderWidth: 0.8,
      borderDash: [1, 1.4],
      pointRadius: 0,
      order: 2,
    })),
  ];
  const decor = makeDecor({
    frameColor: "#8f8f8f", frameWidth: 2, tickLen: 4, tickColor: "#8f8f8f", inward: false,
    sides: ["bottom", "left"],
    texts: [
      { text: "(b)", x: 208, y: 10, font: BOLD_TITLE, color: "#000", maxWidth: 24 },
      { text: simNote1, x: 32, y: 28, font: "8px Arial, sans-serif", color: "#333", align: "left", maxWidth: 83 },
      { text: simNote2, x: 32, y: 38.5, font: "8px Arial, sans-serif", color: "#333", align: "left", maxWidth: 72 },
      { text: "Age", x: 198, y: 279, font: "bold 15px Lato, sans-serif", color: "#000", maxWidth: 24 },
    ],
  });
  return {
    type: "line",
    data: { datasets },
    options: baseOptions(
      { top: 18, right: 8, left: 0, bottom: 0 },
      axis(-3, 547, simAgeTicks, 21, { size: 8.5, family: "Arial, sans-serif" }, "#555", 6),
      axis(-5.64, 8.28, simValueTicks, 28, { size: 8.5, family: "Arial, sans-serif" }, "#555", 8)
    ),
    plugins: [decor],
  };
}

function buildScatter(values: number[], ticks: number[], min: number, max: number, which: "c" | "d"): any {
  const isC = which === "c";
  const texts: TextItem[] = isC
    ? [
        { text: "(c)", x: 177, y: 17, font: BOLD_TITLE, color: "#000", maxWidth: 22 },
        { text: "Age", x: 201, y: 8, font: "bold 12px Lato, sans-serif", color: "#000", maxWidth: 22 },
        { text: "Residual", x: 8, y: 139, font: "bold 15px Lato, sans-serif", color: "#000", rotate: -Math.PI / 2, maxWidth: 52 },
        { text: "Age", x: 178, y: 282, font: "bold 18px Lato, sans-serif", color: "#000", maxWidth: 28 },
      ]
    : [
        { text: "(d)", x: 205, y: 15, font: BOLD_TITLE, color: "#000", maxWidth: 22 },
        { text: "Standardized Residual", x: 12, y: 145, font: "bold 15px Lato, sans-serif", color: "#000", rotate: -Math.PI / 2, maxWidth: 138 },
        { text: "Age", x: 209, y: 283, font: "bold 18px Lato, sans-serif", color: "#000", maxWidth: 28 },
      ];
  const decor = makeDecor({
    frameColor: "#555", frameWidth: 1, tickLen: 4, tickColor: "#555", inward: true,
    sides: ["top", "bottom", "left", "right"],
    texts,
  });
  const tickFont = { size: 10, family: NARROW };
  return {
    type: "scatter",
    data: {
      datasets: [
        {
          data: residualAges.map((a, i) => ({ x: a, y: values[i] })),
          pointRadius: 2.2,
          pointBackgroundColor: "#0a0aff",
          pointBorderWidth: 0,
        },
      ],
    },
    options: baseOptions(
      isC ? { top: 23, right: 4, left: 0, bottom: 0 } : { top: 24, right: 8, left: 0, bottom: 0 },
      axis(0, 550, ageTicksCD, isC ? 30 : 28, tickFont, "#222", isC ? 2 : 1.5),
      axis(min, max, ticks, isC ? 23 : 29, tickFont, "#222", isC ? 4 : 5)
    ),
    plugins: [decor],
  };
}

function Panel({ left, top, width, height, build }: { left: number; top: number; width: number; height: number; build: () => any }) {
  const ref = useRef<HTMLCanvasElement>(null);
  useEffect(() => {
    const chart = new Chart(ref.current as HTMLCanvasElement, build());
    return () => chart.destroy();
  }, []);
  return (
    <canvas
      ref={ref}
      width={width}
      height={height}
      style={{ position: "absolute", left, top, width, height }}
    />
  );
}

export default function App() {
  return (
    <div style={{ position: "fixed", left: 0, top: 0, width: 758, height: 573, background: "#fff", overflow: "hidden" }}>
      <Panel left={0} top={0} width={371} height={281} build={buildA} />
      <Panel left={355} top={0} width={403} height={290} build={buildB} />
      <Panel left={0} top={281} width={370} height={292} build={() => buildScatter(residuals, residTicks, -5, 5, "c")} />
      <Panel left={360} top={281} width={398} height={292} build={() => buildScatter(standardizedResiduals, stdResidTicks, -10, 8, "d")} />
    </div>
  );
}
